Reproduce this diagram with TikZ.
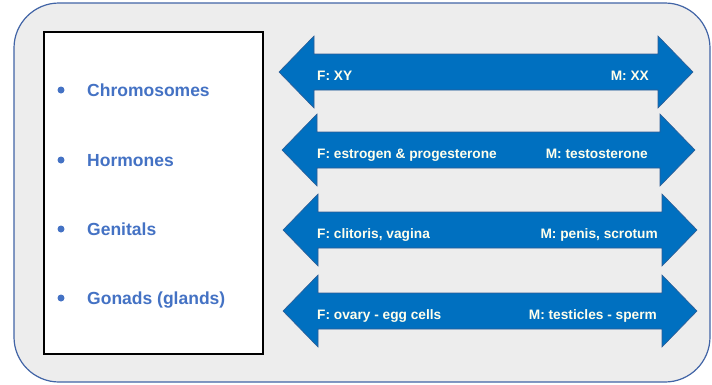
\documentclass[tikz,border=0pt]{standalone}
\usepackage{fontspec}
\setmainfont{Liberation Sans}
\definecolor{framefill}{HTML}{EDEDED}
\definecolor{frameline}{HTML}{4164A6}
\definecolor{arrowblue}{HTML}{0070C0}
\definecolor{arrowline}{HTML}{2E5C94}
\definecolor{itemblue}{HTML}{4472C4}
\definecolor{labelcream}{HTML}{FFFFEC}
\begin{document}
\begin{tikzpicture}[x=1pt,y=-1pt,
    frame/.style={draw=frameline,fill=framefill,line width=1.2pt,rounded corners=45pt},
    listbox/.style={draw=black,fill=white,line width=1.4pt},
    item/.style={anchor=base west,inner sep=0pt,text=itemblue,font=\fontsize{17.5}{20}\selectfont\bfseries},
    dblarrow/.style={fill=arrowblue,draw=arrowline,line width=0.6pt},
    flabel/.style={anchor=base west,inner sep=0pt,text=labelcream,font=\fontsize{13.7}{16}\selectfont\bfseries},
    mlabel/.style={anchor=base east,inner sep=0pt,text=labelcream,font=\fontsize{13.7}{16}\selectfont\bfseries}]
  \useasboundingbox (0,0) rectangle (712,384);
  % outer frame and the white list box
  \draw[frame] (14,3) rectangle (710,382);
  \draw[listbox] (44,32) rectangle (263,354);
  % list
  \foreach \nm/\y/\txt in {chrom/96/Chromosomes,horm/166/Hormones,gen/235/Genitals,gon/304/Gonads (glands)} {
    \fill[itemblue] (61,\y-6) circle (3.5pt);
    \node[item] (\nm) at (87,\y) {\txt};
  }
  % double arrows
  \foreach \nm/\c/\l/\r/\ftxt/\mtxt/\mx in {
      chrom/72/279/693/{F: XY}/{M: XX}/649,
      horm/150/282/695/{F: estrogen \& progesterone}/{M: testosterone}/648,
      gen/230/283/697/{F: clitoris, vagina}/{M: penis, scrotum}/658,
      gon/311/283/697/{F: ovary - egg cells}/{M: testicles - sperm}/657} {
    \draw[dblarrow] (\l,\c) -- ({\l+35},{\c-36}) -- ({\l+35},{\c-18})
      -- ({\r-35},{\c-18}) -- ({\r-35},{\c-36}) -- (\r,\c)
      -- ({\r-35},{\c+36}) -- ({\r-35},{\c+18}) -- ({\l+35},{\c+18})
      -- ({\l+35},{\c+36}) -- cycle;
    \node[flabel] (\nm-f) at (317,{\c+8}) {\ftxt};
    \node[mlabel] (\nm-m) at (\mx,{\c+8}) {\mtxt};
  }
\end{tikzpicture}
\end{document}
